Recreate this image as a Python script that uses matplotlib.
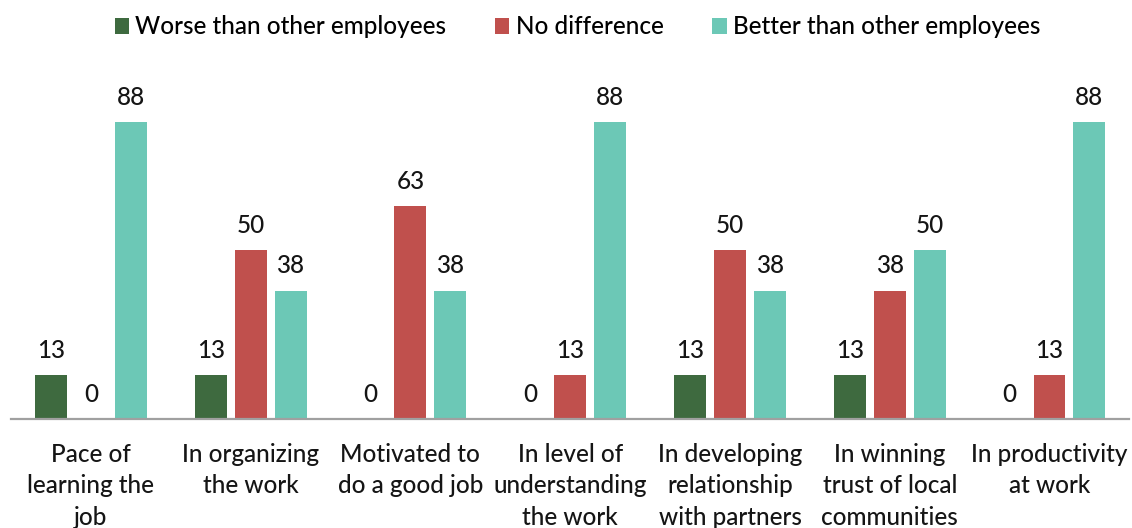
import matplotlib.pyplot as plt
import numpy as np

categories = ['Pace of\nlearning the\njob', 'In organizing\nthe work', 'Motivated to\ndo a good job',
              'In level of\nunderstanding\nthe work', 'In developing\nrelationship\nwith partners',
              'In winning\ntrust of local\ncommunities', 'In productivity\nat work']
worse = [13, 13, 0, 0, 13, 13, 0]
no_diff = [0, 50, 63, 13, 50, 38, 13]
better = [88, 38, 38, 88, 38, 50, 88]

series = [('Worse than other employees', worse, '#3e6a3f'),
          ('No difference', no_diff, '#c0504d'),
          ('Better than other employees', better, '#6cc8b6')]

plt.rcParams['font.family'] = ['Lato', 'DejaVu Sans']
plt.rcParams['font.size'] = 17.5
plt.rcParams['font.weight'] = 'medium'

fig = plt.figure(figsize=(11.32, 5.28), dpi=100)
ax = fig.add_axes([0.0097, 0.2064, 0.988, 0.639])

x = np.arange(len(categories))
bar_width = 0.2
step = 0.25

for i, (name, vals, color) in enumerate(series):
    pos = x + (i - 1) * step
    ax.bar(pos, vals, bar_width, color=color, label=name)
    for px, v in zip(pos, vals):
        ax.annotate(f'{v}', (px, v), xytext=(0, 18), textcoords='offset points',
                    ha='center', va='center', color='#151515')

ax.set_xlim(-0.5, len(categories) - 0.5)
ax.set_ylim(0, 100)
ax.set_xticks(x)
ax.set_xticklabels(categories, color='#151515', linespacing=1.45)
ax.tick_params(axis='x', length=0, pad=17)
ax.set_yticks([])
for side in ['top', 'right', 'left']:
    ax.spines[side].set_visible(False)
ax.spines['bottom'].set_color('#a0a0a0')
ax.spines['bottom'].set_linewidth(1.6)

fig.legend(loc='center', bbox_to_anchor=(0.51, 0.949), ncol=3, frameon=False,
           handlelength=0.6, handleheight=0.6, handletextpad=0.25, columnspacing=2.0)

plt.savefig('out.png', dpi=100)
